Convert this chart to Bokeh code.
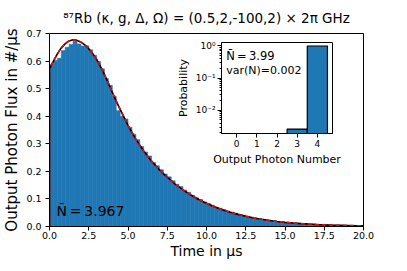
import numpy as np
from bokeh.plotting import figure
from bokeh.layouts import column
from bokeh.models import (FixedTicker, Range1d, Label, CustomJSTickFormatter, Title,
                          PrintfTickFormatter)
from bokeh.embed import file_html
from bokeh.resources import INLINE

FONT = "DejaVu Sans"
BLUE = "#1f77b4"

# ---- data ----
t_curve = [0, 0, 0.25, 0.5, 0.75, 1.0, 1.25, 1.5, 1.75, 2.0, 2.25, 2.5, 2.75, 3.0, 3.25,
           3.5, 3.75, 4.0, 4.25, 4.5, 4.75, 5.0, 5.25, 5.5, 5.75, 6.0, 6.25, 6.5, 6.75,
           7.0, 7.25, 7.5, 7.75, 8.0, 8.5, 9.0, 9.5, 10.0, 10.5, 11.0, 11.5, 12.0, 12.5,
           13.0, 13.5, 14.0, 14.5, 15.0, 15.5, 16.0, 16.5, 17.0, 17.5, 18.0, 18.5, 19.0,
           19.5, 20.0]
flux_curve = [0.0, 0.572, 0.600, 0.626, 0.648, 0.663, 0.673, 0.677, 0.675, 0.669, 0.659,
              0.645, 0.627, 0.606, 0.580, 0.551, 0.519, 0.487, 0.455, 0.425, 0.396,
              0.367, 0.341, 0.317, 0.295, 0.274, 0.255, 0.237, 0.221, 0.206, 0.192,
              0.179, 0.166, 0.154, 0.133, 0.114, 0.098, 0.084, 0.072, 0.061, 0.052,
              0.044, 0.037, 0.031, 0.026, 0.022, 0.018, 0.015, 0.0125, 0.0105, 0.0088,
              0.0073, 0.006, 0.005, 0.0042, 0.0035, 0.0029, 0.0024]

bin_width = 0.25
hist_flux = [0.588, 0.602, 0.610, 0.638, 0.650, 0.660, 0.672, 0.662, 0.655, 0.656,
             0.641, 0.621, 0.598, 0.572, 0.537, 0.512, 0.472, 0.420, 0.400, 0.390,
             0.360, 0.335, 0.315, 0.290, 0.270, 0.256, 0.232, 0.220, 0.206, 0.190,
             0.180, 0.166, 0.153, 0.145, 0.132, 0.124, 0.113, 0.104, 0.098, 0.089,
             0.083, 0.077, 0.070, 0.066, 0.061, 0.056, 0.052, 0.048, 0.044, 0.041,
             0.037, 0.034, 0.031, 0.029, 0.026, 0.024, 0.022, 0.020, 0.018, 0.016,
             0.015, 0.0135, 0.0125, 0.0115, 0.0105, 0.0095, 0.0088, 0.008, 0.0073, 0.0066,
             0.006, 0.0055, 0.005, 0.0046, 0.0042, 0.0038, 0.0035, 0.0032, 0.0029, 0.0026]

photon_number = [0, 1, 2, 3, 4]
photon_prob = [0.0, 0.0, 0.0, 0.0026, 0.9974]

x_ticks = [0, 2.5, 5, 7.5, 10, 12.5, 15, 17.5, 20]
y_ticks = [0, 0.1, 0.2, 0.3, 0.4, 0.5, 0.6, 0.7]

title_text = "\u2078\u2077Rb (\u03ba, g, \u0394, \u03a9) = (0.5,2,-100,2) \u00d7 2\u03c0 GHz"
mean_main = "N\u0304\u2009=\u20093.967"
mean_inset = "N\u0304\u2009=\u20093.99"
var_inset = "var(N)=0.002"

# ---- main figure ----
p = figure(width=383, height=261, output_backend="svg", toolbar_location=None,
           x_range=Range1d(0, 20), y_range=Range1d(0, 0.7),
           min_border_left=43, min_border_right=20, min_border_top=24, min_border_bottom=27)
p.title = Title(text=title_text, align="center", text_font=FONT, text_font_size="13.5px",
                text_font_style="normal", text_color="black", standoff=15, offset=0)
p.outline_line_color = "black"
p.outline_line_width = 1
p.grid.visible = False
p.background_fill_color = "white"

edges = np.arange(len(hist_flux) + 1) * bin_width
p.quad(left=edges[:-1], right=edges[1:], bottom=0, top=hist_flux,
       fill_color=BLUE, line_color=BLUE, line_width=0.6)
p.line(t_curve, flux_curve, line_color="black", line_width=1.6)
p.line(t_curve, flux_curve, line_color="red", line_width=1.6, line_dash="4 3")

for ax in (p.xaxis[0], p.yaxis[0]):
    ax.axis_line_color = "black"
    ax.major_tick_line_color = "black"
    ax.major_tick_in = 0
    ax.major_tick_out = 4
    ax.minor_tick_line_color = None
    ax.major_label_text_font = FONT
    ax.major_label_text_font_size = "9.5px"
    ax.major_label_text_color = "black"
    ax.axis_label_text_font = FONT
    ax.axis_label_text_font_style = "normal"
    ax.axis_label_text_color = "black"
    ax.formatter = PrintfTickFormatter(format="%.1f")
p.xaxis.major_label_standoff = 1
p.xaxis.axis_label_text_font_size = "14px"
p.xaxis.axis_label_standoff = 1
p.yaxis.major_label_standoff = 4
p.yaxis.axis_label_text_font_size = "15px"
p.yaxis.axis_label_standoff = 2
p.xaxis.ticker = FixedTicker(ticks=x_ticks)
p.yaxis.ticker = FixedTicker(ticks=y_ticks)
p.xaxis.axis_label = "Time in \u03bcs"
p.yaxis.axis_label = "Output Photon Flux in #/\u03bcs"

p.add_layout(Label(x=0.45, y=0.055, text=mean_main, text_font=FONT, text_font_size="14px",
                   text_color="black", text_baseline="middle", text_align="left"))

# ---- inset figure ----
ins = figure(width=180, height=131, output_backend="svg", toolbar_location=None,
             y_axis_type="log", x_range=Range1d(-0.75, 4.75), y_range=Range1d(0.0019, 1.28),
             min_border_left=35, min_border_right=2, min_border_top=5, min_border_bottom=32)
ins.outline_line_color = "black"
ins.outline_line_width = 1
ins.grid.visible = False
ins.background_fill_color = "white"
ins.border_fill_alpha = 0

nz_x = [n for n, pr in zip(photon_number, photon_prob) if pr > 0]
nz_p = [pr for pr in photon_prob if pr > 0]
ins.vbar(x=nz_x, width=1.0, bottom=1e-4, top=nz_p, fill_color=BLUE, line_color="black",
         line_width=1.2)

for ax in (ins.xaxis[0], ins.yaxis[0]):
    ax.axis_line_color = "black"
    ax.major_tick_line_color = "black"
    ax.minor_tick_line_color = "black"
    ax.major_tick_in = 0
    ax.major_tick_out = 4
    ax.minor_tick_in = 0
    ax.minor_tick_out = 2
    ax.major_label_text_font = FONT
    ax.major_label_text_font_size = "9px"
    ax.major_label_text_color = "black"
    ax.axis_label_text_font = FONT
    ax.axis_label_text_font_size = "11px"
    ax.axis_label_text_font_style = "normal"
    ax.axis_label_text_color = "black"
    ax.major_label_standoff = 2
    ax.axis_label_standoff = 3
ins.xaxis.ticker = FixedTicker(ticks=photon_number)
ins.xaxis.minor_tick_line_color = None
minor = [m * 10.0 ** e for e in (-3, -2, -1, 0) for m in range(2, 10)]
ins.yaxis.ticker = FixedTicker(ticks=[0.01, 0.1, 1.0], minor_ticks=minor)
ins.yaxis.formatter = CustomJSTickFormatter(code="""
const e = Math.round(Math.log10(tick));
const sup = {'0':'\u2070','1':'\u00b9','2':'\u00b2','-':'\u207b'};
return '10' + String(e).split('').map(c => sup[c]).join('');
""")
ins.xaxis.axis_label = "Output Photon Number"
ins.yaxis.axis_label = "Probability"

ins.add_layout(Label(x=-0.52, y=0.47, text=mean_inset, text_font=FONT, text_font_size="11.5px",
                     text_color="black", text_baseline="middle", text_align="left"))
ins.add_layout(Label(x=-0.52, y=0.17, text=var_inset, text_font=FONT, text_font_size="11px",
                     text_color="black", text_baseline="middle", text_align="left"))

ins.styles = {"position": "absolute", "left": "172px", "top": "37px"}

layout = column(p, ins, width=383, height=261, sizing_mode="fixed")
layout.styles = {"position": "relative", "overflow": "visible"}
open("out.html", "w").write(file_html(layout, INLINE))
